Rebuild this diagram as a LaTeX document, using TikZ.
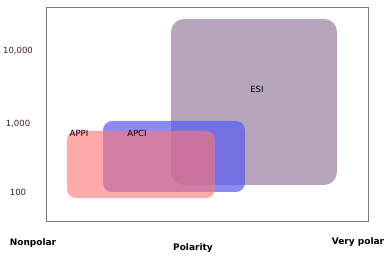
\documentclass[tikz,border=0pt]{standalone}
\usepackage{fontspec}
\setmainfont{DejaVu Sans}
\usepackage{tikz}
\usetikzlibrary{positioning}
\definecolor{esipurple}{RGB}{183, 165, 190}
\definecolor{apciblue}{RGB}{90, 90, 240}
\definecolor{appipink}{RGB}{255, 118, 118}
\definecolor{framegray}{RGB}{120, 120, 120}
\definecolor{ticktext}{RGB}{70, 30, 30}

\begin{document}
\begin{tikzpicture}[x=1pt, y=-1pt,
        region/.style={rounded corners=9pt, inner sep=0pt},
        lbl/.style={font=\fontsize{8.5}{10}\selectfont, inner sep=0pt},
        tick/.style={font=\fontsize{8.5}{10}\selectfont, text=ticktext, inner sep=0pt},
        axis/.style={font=\bfseries\fontsize{9}{10}\selectfont, inner sep=0pt}
      ]
        \useasboundingbox (0,0) rectangle (392,259);

        \node[draw=framegray, line width=0.9pt, minimum width=322pt, minimum height=214pt, inner sep=0pt] (frame) at (207,114) {};

        \node[region, rounded corners=13pt, fill=esipurple, minimum width=166pt, minimum height=166pt] (esi) at (254,102) {};
        \node[region, fill=apciblue, fill opacity=0.7, minimum width=142pt, minimum height=71pt] (apci) at (174,156.5) {};
        \node[region, fill=appipink, fill opacity=0.62, minimum width=148pt, minimum height=67pt] (appi) at (141,164.5) {};

        \node[lbl] (esilbl) at (257,89) {ESI};
        \node[lbl] (apcilbl) at (137,133) {APCI};
        \node[lbl] (appilbl) at (79,133) {APPI};

        \node[tick] (t4) at (18,51) {10,000};
        \node[tick] (t3) at (18,124) {1,000};
        \node[tick] (t2) at (18,192) {100};

        \node[axis] (nonpolar) at (33,243) {Nonpolar};
        \node[axis] (polarity) at (193,248) {Polarity};
        \node[axis] (verypolar) at (358,242) {Very polar};
      \end{tikzpicture}
\end{document}
